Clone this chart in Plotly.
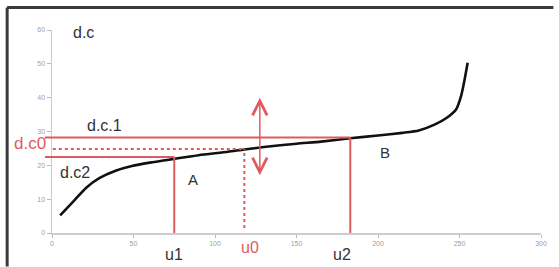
import plotly.graph_objects as go

# ---- data ----
curve_x = [5, 14, 21, 29, 39, 49, 60, 75, 90, 108, 118, 130, 150, 165, 183, 200, 215, 225, 235, 242, 248, 251, 253, 255]
curve_y = [5.2, 9.8, 13.4, 16.2, 18.4, 19.8, 20.8, 21.9, 23.0, 24.0, 24.7, 25.4, 26.4, 27.0, 28.0, 28.8, 29.6, 30.3, 32.1, 34.0, 36.6, 40.5, 45.0, 50.3]

u_names = ["u1", "u0", "u2"]
u_values = [75, 118, 183]
dc_names = ["d.c2", "d.c0", "d.c.1"]
dc_values = [22.5, 24.8, 28.2]

x_ticks = [0, 50, 100, 150, 200, 250, 300]
y_ticks = [0, 10, 20, 30, 40, 50, 60]
X_RANGE = [0, 300]
Y_RANGE = [0, 60]

RED = "#e05a5e"
TXT = "#333333"
FONT = "Liberation Sans, Arial, sans-serif"

W, H = 559, 267
ML, MR, MT, MB = 52, 13, 30, 34
PW, PH = W - ML - MR, H - MT - MB

def xpaper(v):
    return (v - X_RANGE[0]) / (X_RANGE[1] - X_RANGE[0])

def ypaper(v):
    return (v - Y_RANGE[0]) / (Y_RANGE[1] - Y_RANGE[0])

fig = go.Figure()
fig.add_trace(go.Scatter(x=curve_x, y=curve_y, mode="lines",
                         line=dict(color="#111111", width=2.6, shape="spline", smoothing=0.6),
                         hoverinfo="skip", showlegend=False))

shapes = []
# outer frame: top and left edges, kept inside the figure so the page does not grow
FRAME = dict(color="#3a3a3a", width=3)
fx0 = (6.7 - ML) / PW
fx1 = (W - 0.5 - ML) / PW
fy1 = (H - MB - 7.5) / PH
fy0 = (H - MB - (H - 0.5)) / PH
shapes.append(dict(type="line", xref="paper", yref="paper", x0=fx0, x1=fx1, y0=fy1, y1=fy1,
                   line=FRAME, layer="above"))
shapes.append(dict(type="line", xref="paper", yref="paper", x0=fx0, x1=fx0, y0=fy0, y1=fy1,
                   line=FRAME, layer="above"))
left_start = -4.3
u1, u0, u2 = u_values
dc2, dc0, dc1 = dc_values
shapes.append(dict(type="line", xref="paper", yref="y", x0=xpaper(left_start), x1=xpaper(u2), y0=dc1, y1=dc1,
                   line=dict(color=RED, width=2)))
shapes.append(dict(type="line", xref="paper", yref="y", x0=xpaper(left_start), x1=xpaper(u1), y0=dc2, y1=dc2,
                   line=dict(color=RED, width=2)))
shapes.append(dict(type="line", xref="x", yref="y", x0=0.5, x1=u0, y0=dc0, y1=dc0,
                   line=dict(color=RED, width=2, dash="dot")))
shapes.append(dict(type="line", xref="x", yref="y", x0=u1, x1=u1, y0=0, y1=dc2,
                   line=dict(color=RED, width=2)))
shapes.append(dict(type="line", xref="x", yref="y", x0=u2, x1=u2, y0=-0.5, y1=dc1,
                   line=dict(color=RED, width=2)))
shapes.append(dict(type="line", xref="x", yref="y", x0=u0, x1=u0, y0=1.5, y1=dc0,
                   line=dict(color=RED, width=2, dash="dot")))

annotations = []
annotations.append(dict(x=127.5, y=40.0, ax=127.5, ay=16.6, xref="x", yref="y", axref="x", ayref="y",
                        text="", showarrow=True, arrowhead=5, startarrowhead=5, arrowside="end+start",
                        arrowsize=1.9, arrowwidth=1.5, arrowcolor=RED, standoff=0, startstandoff=0))

def label(text, x, y, color=TXT, size=16):
    annotations.append(dict(x=xpaper(x), y=ypaper(y), xref="paper", yref="paper", text=text, showarrow=False,
                            font=dict(family=FONT, size=size, color=color),
                            xanchor="center", yanchor="middle"))

label("d.c", 19.4, 59.4)
label("d.c.1", 32.5, 31.9)
label("d.c0", -13.4, 26.6, color=RED, size=17)
label("d.c2", 14.0, 18.0)
label("A", 86.8, 15.7, size=15)
label("B", 204.0, 23.7, size=15)
label(u_names[0], 74.7, -6.5)
label(u_names[1], 121.5, -4.4, color=RED)
label(u_names[2], 178.0, -6.5)

fig.update_layout(
    width=W, height=H,
    margin=dict(l=ML, r=MR, t=MT, b=MB),
    paper_bgcolor="white", plot_bgcolor="white",
    shapes=shapes, annotations=annotations,
    xaxis=dict(range=X_RANGE, tickvals=x_ticks, showgrid=False, zeroline=False,
               showline=True, linecolor="#cccccc", linewidth=1.5,
               ticks="outside", ticklen=3, tickcolor="#bbbbbb",
               tickfont=dict(size=7, color="#a0a0a0", family=FONT)),
    yaxis=dict(range=Y_RANGE, tickvals=y_ticks, showgrid=False, zeroline=False,
               showline=True, linecolor="#cccccc", linewidth=1.5,
               ticks="outside", ticklen=4, tickcolor="#bbbbbb",
               tickfont=dict(size=7, color="#a0a0a0", family=FONT)),
)

fig.write_html("out.html",
               config={"displayModeBar": False, "staticPlot": True},
               post_script="document.documentElement.style.overflow='hidden';"
                           "document.body.style.margin='0';document.body.style.overflow='hidden';")
